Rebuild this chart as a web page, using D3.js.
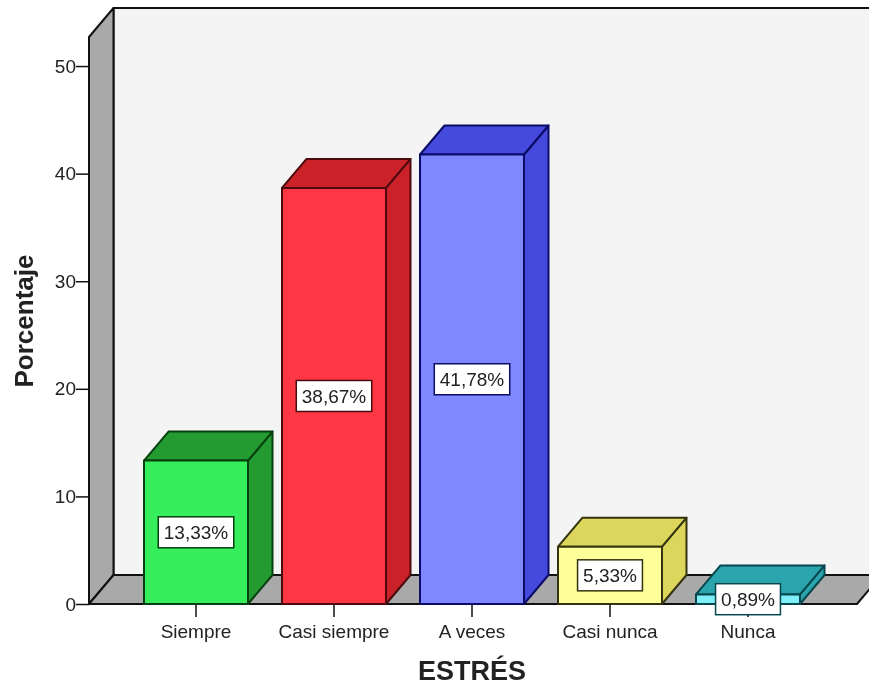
<!DOCTYPE html>
<html><head><meta charset="utf-8">
<script src="https://cdn.jsdelivr.net/npm/d3@7"></script>
<style>html,body{margin:0;padding:0;background:#fff}svg{display:block;filter:blur(0.4px)}text{font-family:"Liberation Sans",Arial,sans-serif;fill:#222}</style>
</head><body><svg id="c" width="869" height="686"></svg>
<script>
const categories = ["Siempre","Casi siempre","A veces","Casi nunca","Nunca"];
const values = [13.33,38.67,41.78,5.33,0.89];
const valueLabels = ["13,33%","38,67%","41,78%","5,33%","0,89%"];
const yTicks = [0,10,20,30,40,50];
const frontColors = ["#36EE5C","#FF3644","#8088FF","#FFFF99","#7FEFF8"];
const darkColors = ["#249B30","#CB2229","#4549DC","#DCD65C","#2BA5AD"];
const edgeColors = ["#07400F","#4A0A0E","#0A0C66","#33330F","#07474D"];
const yTitle = "Porcentaje", xTitle = "ESTRÉS";

const svg = d3.select("#c");
const dx = 24.5, dy = -29;
const x = d3.scaleBand().domain(categories).range([127,817]).paddingInner(0.2464).paddingOuter(0.1232);
const y = d3.scaleLinear().domain([0,52.7]).range([604,37]);
const poly = pts => pts.map(p=>p.join(",")).join(" ");
const x0 = 89, x1 = 857;
const wall = {stroke:"#111","stroke-width":2,"stroke-linejoin":"round"};
function P(pts,fill,st){const s=svg.append("polygon").attr("points",poly(pts)).attr("fill",fill);Object.entries(st).forEach(([k,v])=>s.attr(k,v));return s;}

// back wall, side wall, floor
P([[x0+dx,y(52.7)+dy],[x1+dx,y(52.7)+dy],[x1+dx,y(0)+dy],[x0+dx,y(0)+dy]],"#F4F4F4",wall);
P([[x0,y(52.7)],[x0+dx,y(52.7)+dy],[x0+dx,y(0)+dy],[x0,y(0)]],"#A9A9A9",wall);
P([[x0,y(0)],[x0+dx,y(0)+dy],[x1+dx,y(0)+dy],[x1,y(0)]],"#A9A9A9",wall);

// axes
const gy = svg.append("g").attr("transform",`translate(${x0},0)`)
  .call(d3.axisLeft(y).tickValues(yTicks).tickSize(13).tickSizeOuter(0).tickPadding(0).tickFormat(d3.format("d")));
const gx = svg.append("g").attr("transform",`translate(0,${y(0)})`)
  .call(d3.axisBottom(x).tickSize(13).tickSizeOuter(0).tickPadding(8));
[gy,gx].forEach(g=>{g.select(".domain").remove();
  g.attr("font-family",null);
  g.selectAll(".tick line").attr("stroke","#111").attr("stroke-width",1.5);
  g.selectAll("text").attr("font-size",19).attr("fill","#222");});

// bars
const bars = svg.selectAll("g.bar").data(categories).join("g").attr("class","bar");
bars.each(function(c,i){
  const g=d3.select(this), l=x(c), r=l+x.bandwidth(), t=y(values[i]), b=y(0);
  const st={stroke:edgeColors[i],"stroke-width":2,"stroke-linejoin":"round"};
  const add=(pts,f)=>{const s=g.append("polygon").attr("points",poly(pts)).attr("fill",f);Object.entries(st).forEach(([k,v])=>s.attr(k,v));};
  add([[r,t],[r+dx,t+dy],[r+dx,b+dy],[r,b]],darkColors[i]);
  add([[l,t],[l+dx,t+dy],[r+dx,t+dy],[r,t]],darkColors[i]);
  add([[l,t],[r,t],[r,b],[l,b]],frontColors[i]);
});

// value labels
bars.each(function(c,i){
  const g=d3.select(this), cx=x(c)+x.bandwidth()/2, cy=(y(values[i])+y(0))/2;
  const rect=g.append("rect").attr("fill","#fff").attr("stroke",edgeColors[i]).attr("stroke-width",1.5);
  const t=g.append("text").attr("x",cx).attr("y",cy).attr("text-anchor","middle").attr("dy","0.36em").attr("font-size",19).text(valueLabels[i]);
  const w=t.node().getComputedTextLength()+11;
  rect.attr("x",cx-w/2).attr("y",cy-15.5).attr("width",w).attr("height",31);
});

svg.append("text").attr("transform","translate(33,321) rotate(-90)").attr("text-anchor","middle")
  .attr("font-size",26).attr("font-weight","bold").text(yTitle);
svg.append("text").attr("x",472).attr("y",680).attr("text-anchor","middle")
  .attr("font-size",27).attr("font-weight","bold").text(xTitle);
</script></body></html>
